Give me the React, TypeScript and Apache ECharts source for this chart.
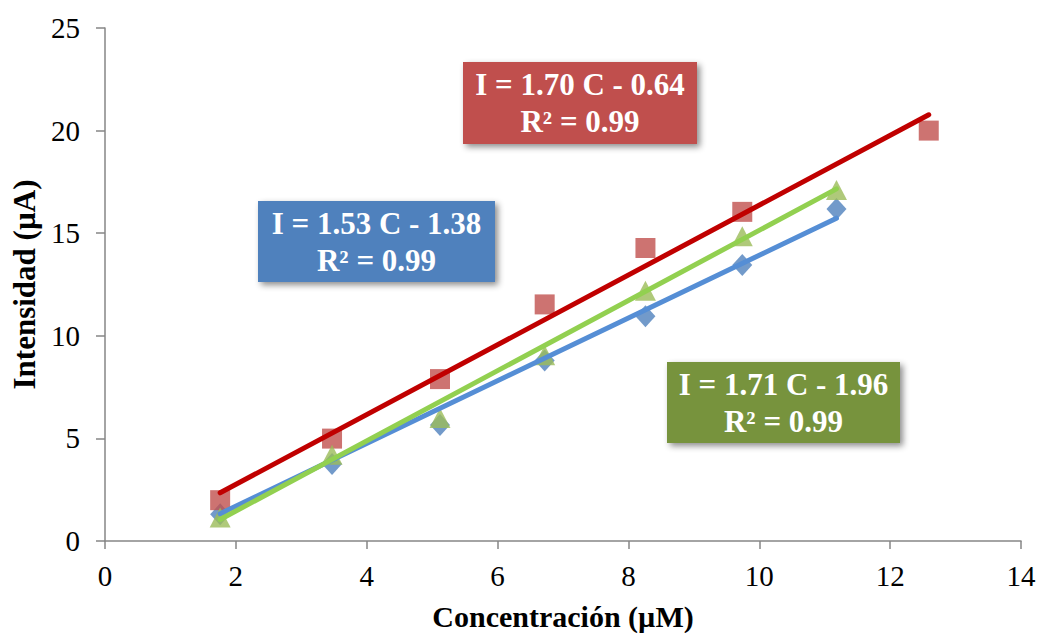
import React, { useEffect, useRef } from "react";
import * as echarts from "echarts";

// Concentración (µM)
const concBlue = [1.76, 3.47, 5.12, 6.72, 8.26, 9.74, 11.18];
const intBlue = [1.3, 3.75, 5.65, 8.8, 10.95, 13.45, 16.18];
const concRed = [1.76, 3.47, 5.12, 6.72, 8.26, 9.74, 12.59];
const intRed = [1.99, 4.99, 7.89, 11.53, 14.28, 16.04, 20.0];
const concGreen = [1.76, 3.47, 5.12, 6.72, 8.26, 9.74, 11.18];
const intGreen = [1.15, 4.2, 6.0, 9.05, 12.2, 14.85, 17.1];

// trend line end points [x, y]
const trendBlue = [[1.76, 1.33], [11.18, 15.73]];
const trendRed = [[1.76, 2.35], [12.59, 20.77]];
const trendGreen = [[1.76, 1.05], [11.18, 17.16]];

const eqRed = ["I = 1.70 C - 0.64", "R² = 0.99"];
const eqBlue = ["I = 1.53 C - 1.38", "R² = 0.99"];
const eqGreen = ["I = 1.71 C - 1.96", "R² = 0.99"];

const xTicks = { min: 0, max: 14, interval: 2 };
const yTicks = { min: 0, max: 25, interval: 5 };

const FONT = "Liberation Serif";
const AXIS = "#868686";

function zip(xs: number[], ys: number[]) {
  return xs.map((x, i) => [x, ys[i]]);
}

function box(x: number, y: number, w: number, h: number, fill: string, lines: string[]) {
  return {
    type: "group",
    x,
    y,
    children: [
      {
        type: "rect",
        shape: { x: 0, y: 0, width: w, height: h },
        style: {
          fill,
          shadowBlur: 6,
          shadowOffsetX: 3,
          shadowOffsetY: 3,
          shadowColor: "rgba(0,0,0,0.45)",
        },
      },
      {
        type: "text",
        x: w / 2,
        y: h / 2,
        style: {
          text: lines.join("\n"),
          fill: "#ffffff",
          fontFamily: FONT,
          fontWeight: "bold",
          fontSize: 31,
          lineHeight: 37,
          align: "center",
          verticalAlign: "middle",
        },
      },
    ],
  };
}

export default function App() {
  const ref = useRef<HTMLDivElement>(null);
  useEffect(() => {
    document.body.style.margin = "0";
    const chart = echarts.init(ref.current!, null, { renderer: "svg" });
    const lineStyle = (color: string) => ({ color, width: 5, cap: "round" });
    chart.setOption({
      animation: false,
      backgroundColor: "#ffffff",
      textStyle: { fontFamily: FONT },
      grid: { left: 105, right: 19, top: 28, bottom: 92, containLabel: false, outerBoundsMode: "none" },
      xAxis: {
        type: "value",
        ...xTicks,
        name: "Concentración (µM)",
        nameLocation: "middle",
        nameGap: 60,
        nameTextStyle: { fontFamily: FONT, fontWeight: "bold", fontSize: 30, color: "#000" },
        axisLine: { show: true, onZero: false, lineStyle: { color: AXIS, width: 1.5 } },
        axisTick: { show: true, inside: false, length: 8, lineStyle: { color: AXIS, width: 1.5 } },
        axisLabel: { fontFamily: FONT, fontSize: 29, color: "#000", margin: 20 },
        splitLine: { show: false },
      },
      yAxis: {
        type: "value",
        ...yTicks,
        name: "Intensidad (µA)",
        nameLocation: "middle",
        nameGap: 63,
        nameRotate: 90,
        nameTextStyle: { fontFamily: FONT, fontWeight: "bold", fontSize: 31, color: "#000" },
        axisLine: { show: true, lineStyle: { color: AXIS, width: 1.5 } },
        axisTick: { show: true, inside: false, length: 9, lineStyle: { color: AXIS, width: 1.5 } },
        axisLabel: { fontFamily: FONT, fontSize: 29, color: "#000", margin: 25 },
        splitLine: { show: false },
      },
      series: [
        {
          type: "scatter",
          data: zip(concBlue, intBlue),
          symbol: "diamond",
          symbolSize: [20, 22],
          itemStyle: { color: "#4F81BD" },
          z: 2,
        },
        {
          type: "scatter",
          data: zip(concRed, intRed),
          symbol: "rect",
          symbolSize: 20,
          itemStyle: { color: "#C0504D" },
          z: 2,
        },
        {
          type: "scatter",
          data: zip(concGreen, intGreen),
          symbol: "triangle",
          symbolSize: [21, 20],
          itemStyle: { color: "#9BBB59" },
          z: 2,
        },
        {
          type: "line",
          data: trendBlue,
          showSymbol: false,
          symbol: "none",
          lineStyle: lineStyle("#558ED5"),
          z: 3,
        },
        {
          type: "line",
          data: trendRed,
          showSymbol: false,
          symbol: "none",
          lineStyle: lineStyle("#C00000"),
          z: 3,
        },
        {
          type: "line",
          data: trendGreen,
          showSymbol: false,
          symbol: "none",
          lineStyle: lineStyle("#92D050"),
          z: 3,
        },
      ],
      graphic: [
        box(463, 62, 234, 82, "#C0504D", eqRed),
        box(258, 201, 237, 81, "#4F81BD", eqBlue),
        box(667, 362, 233, 81, "#77933C", eqGreen),
      ],
    });
    return () => chart.dispose();
  }, []);
  return (
    <div
      ref={ref}
      style={{ position: "fixed", left: 0, top: 0, width: 1040, height: 633 }}
    />
  );
}
